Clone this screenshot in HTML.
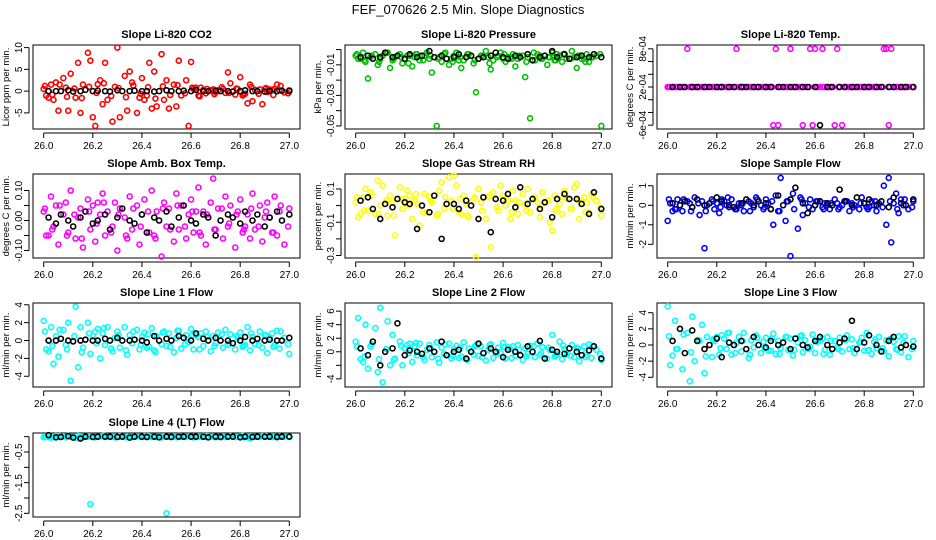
<!DOCTYPE html>
<html><head><meta charset="utf-8"><style>
body{margin:0;background:#fff;}
svg{display:block;font-family:"Liberation Sans",Arial,sans-serif;}
</style></head><body>
<svg id="chart" width="936" height="540" viewBox="0 0 936 540">
<text x="468" y="14" text-anchor="middle" font-size="13">FEF_070626  2.5 Min. Slope Diagnostics</text>
</svg>
<script>
const colorTimes=[26.00,26.01,26.03,26.04,26.05,26.06,26.08,26.09,26.10,26.11,26.13,26.14,26.15,26.16,26.18,26.19,26.20,26.21,26.23,26.24,26.25,26.26,26.28,26.29,26.30,26.31,26.33,26.34,26.35,26.36,26.38,26.39,26.40,26.41,26.43,26.44,26.45,26.46,26.48,26.49,26.50,26.51,26.53,26.54,26.55,26.56,26.58,26.59,26.60,26.61,26.63,26.64,26.65,26.66,26.68,26.69,26.70,26.71,26.73,26.74,26.75,26.76,26.78,26.79,26.80,26.81,26.83,26.84,26.85,26.86,26.88,26.89,26.90,26.91,26.93,26.94,26.95,26.96,26.98,27.00];
const colorTimes2=[26.005,26.035,26.065,26.095,26.125,26.155,26.185,26.215,26.245,26.275,26.305,26.335,26.365,26.395,26.425,26.455,26.485,26.515,26.545,26.575,26.605,26.635,26.665,26.695,26.725,26.755,26.785,26.815,26.845,26.875,26.905,26.935,26.965,26.995,26.02,26.22,26.42,26.62,26.82,26.92];
const blackTimes=[26.02,26.05,26.07,26.10,26.12,26.15,26.17,26.20,26.22,26.25,26.27,26.30,26.32,26.35,26.37,26.40,26.42,26.45,26.47,26.50,26.52,26.55,26.57,26.60,26.62,26.65,26.67,26.70,26.72,26.75,26.77,26.80,26.82,26.85,26.87,26.90,26.92,26.95,26.97,27.00];
const xTicks=[26.0,26.2,26.4,26.6,26.8,27.0];
const xTickLabels=["26.0","26.2","26.4","26.6","26.8","27.0"];

const co2Color=[0.5,-1,1.5,-2,2,-4.5,3,0.8,-4.5,4,-1.5,6.5,-5,1.5,8.8,7,-6,-8,2.5,-3,6.5,-2,-7,1,10,-6,3.5,-4.5,4.5,2,-5,-1.5,3,-2,6.5,-4,4.5,-3.5,8.5,-2,2.5,-4,1.5,-3.5,7,-1,2.5,-8,6.7,0.5,-1,0.8,0.3,-0.5,0.2,0.4,-0.3,0.2,0.5,-0.4,4.3,1.8,-0.8,0.5,3.2,-1,-2.8,1.5,-2.3,0.3,0.4,-3,0.5,-0.2,0.3,0.5,1.5,0.2,-0.3,0.2];
const co2Color2=[1.2,-0.8,1.5,-1.3,0.6,-1.6,1.0,-0.4,1.8,-1.1,0.7,-1.4,1.3,-0.6,0.9,-1.7,1.1,-0.9,1.4,-0.5,0.8,-1.2,0.5,-0.7,0.9,-0.4,0.6,-0.8,1.0,-0.6,0.7,-0.9,1.2,-0.5,-1.5,1.6,-1.0,0.8,-0.6,0.4];
const co2Black=[0,0,0,0.2,-0.1,0,0.3,0,0.1,0,-0.1,0.2,0,0,0.1,0,0,-0.1,0,0.2,0,0,0.1,0,0.3,0,0,0.1,0,0,-0.1,0,0.2,0,0,-0.1,0,0,0.1,0];
const presColor=[-0.004,-0.006,-0.002,-0.008,-0.019,-0.005,-0.003,-0.010,-0.006,-0.004,-0.002,-0.012,-0.007,-0.005,-0.003,-0.009,-0.006,-0.004,-0.011,-0.005,-0.003,-0.007,-0.004,-0.002,-0.006,-0.015,-0.050,-0.005,-0.008,-0.003,-0.010,-0.006,-0.004,-0.002,-0.012,-0.007,-0.005,-0.003,-0.009,-0.028,-0.006,-0.004,-0.001,-0.005,-0.013,-0.007,-0.004,-0.002,-0.006,-0.008,-0.005,-0.003,-0.011,-0.006,-0.004,-0.018,-0.005,-0.045,-0.007,-0.003,-0.004,-0.006,-0.010,-0.005,-0.002,-0.007,-0.004,-0.008,-0.003,-0.006,-0.001,-0.005,-0.012,-0.004,-0.006,-0.003,-0.008,-0.005,-0.004,-0.050];
const presColor2=[-0.003,-0.007,-0.004,-0.008,-0.002,-0.006,-0.005,-0.009,-0.003,-0.007,-0.004,-0.006,-0.002,-0.008,-0.005,-0.003,-0.007,-0.004,-0.009,-0.005,-0.003,-0.006,-0.004,-0.008,-0.002,-0.006,-0.005,-0.007,-0.003,-0.006,-0.004,-0.008,-0.005,-0.003,-0.006,-0.004,-0.007,-0.005,-0.003,-0.006];
const presBlack=[-0.005,-0.004,-0.006,-0.005,-0.002,-0.005,-0.004,-0.006,-0.003,-0.005,-0.004,-0.001,-0.005,-0.004,-0.006,-0.005,-0.003,-0.005,-0.004,-0.006,-0.005,-0.004,-0.002,-0.005,-0.006,-0.004,-0.005,-0.003,-0.007,-0.005,-0.004,-0.001,-0.005,-0.003,-0.006,-0.005,-0.004,-0.005,-0.003,-0.005];
const tempColor=[0,0,0,0,0,0,6,0,0,0,0,0,0,0,0,0,0,0,0,0,0,0,6,0,0,0,0,0,0,0,0,0,0,0,-6,6,-6,0,0,0,6,0,0,0,-6,0,6,-6,6,0,6,0,0,0,-6,6,0,-6,0,0,0,0,0,0,0,0,0,0,0,0,6,6,-6,6,0,0,0,0,0,0];
const tempColor2=[0,0,0,0,0,0,0,0,0,0,0,0,0,0,0,0,0,0,0,0,0,0,0,0,0,0,0,0,0,0,0,0,0,0,0,0,0,0,0,0];
const tempBlack=[0,0,0,0,0,0,0,0,0,0,0,0,0,0,0,0,0,0,0,0,0,0,0,0,-6,0,0,0,0,0,0,0,0,0,0,0,0,0,0,0];
const ambColor=[0.03,-0.05,0.08,-0.02,0.05,-0.08,0.02,0.06,-0.04,0.10,-0.06,0.01,0.04,-0.09,0.07,-0.03,0.05,-0.07,0.02,0.09,-0.05,0.03,-0.02,0.06,-0.10,0.04,0.01,-0.06,0.08,-0.03,0.05,-0.08,0.02,0.07,-0.04,0.10,-0.05,0.03,-0.12,0.06,-0.02,0.04,-0.07,0.09,-0.03,0.05,-0.06,0.02,0.07,-0.04,0.11,-0.05,0.03,-0.08,0.06,0.14,-0.03,0.04,-0.06,0.08,-0.02,0.05,-0.09,0.03,0.07,-0.04,0.02,-0.06,0.09,-0.03,0.05,-0.07,0.01,0.06,-0.04,0.08,-0.05,0.03,-0.08,0.04];
const ambColor2=[0.04,-0.03,0.05,-0.05,0.02,-0.06,0.03,-0.01,0.06,-0.04,0.02,-0.05,0.04,-0.02,0.03,-0.06,0.04,-0.03,0.05,-0.02,0.03,-0.04,0.02,-0.03,0.04,-0.01,0.02,-0.03,0.04,-0.02,0.03,-0.04,0.05,-0.02,-0.05,0.06,-0.04,0.03,-0.02,0.01];
const ambBlack=[0.01,-0.01,0.02,0.00,-0.02,0.01,0.03,-0.01,0.00,0.02,-0.03,0.01,0.04,0.00,-0.01,0.02,-0.04,0.01,0.00,0.03,-0.02,0.01,0.05,0.00,-0.01,0.02,0.01,-0.05,0.00,0.02,0.01,-0.01,0.03,0.00,0.02,-0.02,0.01,0.03,0.00,0.02];
const rhColor=[0.02,-0.07,0.05,0.10,-0.03,0.08,-0.05,0.15,0.00,0.12,-0.06,0.06,0.02,-0.18,0.11,-0.02,0.04,0.09,-0.08,0.03,0.01,-0.12,0.07,-0.04,0.05,0.02,-0.06,0.09,0.14,-0.02,0.17,0.03,0.18,0.12,-0.05,0.06,0.01,-0.07,0.04,-0.31,0.10,0.02,-0.08,0.05,-0.25,0.08,-0.03,0.12,0.06,0.00,-0.08,0.09,0.03,-0.05,0.07,0.01,0.10,-0.04,0.05,0.02,-0.07,0.08,0.03,-0.10,-0.15,0.06,0.01,-0.05,0.09,0.04,-0.02,0.11,0.13,-0.08,0.05,0.02,-0.04,0.07,0.03,-0.06];
const rhColor2=[0.05,-0.03,0.06,-0.05,0.03,-0.06,0.04,0.00,0.07,-0.04,0.03,-0.05,0.05,-0.02,0.04,-0.06,0.05,-0.03,0.06,-0.01,0.04,-0.04,0.02,-0.03,0.04,0.00,0.03,-0.03,0.05,-0.02,0.03,-0.04,0.05,-0.01,-0.05,0.06,-0.04,0.03,-0.02,0.02];
const rhBlack=[0.03,0.05,-0.02,-0.08,0.01,-0.01,0.04,0.02,0.01,-0.14,0.00,-0.04,0.06,-0.20,0.01,0.01,-0.02,0.03,0.00,-0.08,0.05,-0.16,0.04,0.03,0.07,-0.01,0.11,0.01,0.04,-0.02,0.02,-0.07,0.04,0.07,0.04,0.04,0.01,-0.05,0.08,-0.02];
const sfColor=[-0.8,0.1,-0.2,0.3,0.0,-0.3,0.2,0.1,-0.1,0.4,-0.5,0.2,-2.2,0.0,0.3,-0.2,0.1,-0.4,0.2,0.0,-0.1,0.3,-0.2,0.1,0.0,-0.3,0.2,0.1,-0.1,0.4,0.0,-0.2,0.3,0.1,-1.0,0.5,-0.3,1.4,-0.8,0.2,-2.6,0.6,-1.2,0.4,-0.5,0.1,0.3,-0.2,0.0,0.2,-0.1,0.1,0.0,-0.2,0.3,0.1,-0.1,0.0,0.2,-0.3,0.1,0.0,-0.2,0.4,0.1,-0.1,0.2,0.0,-0.3,0.1,1.0,-1.0,1.4,-1.9,0.6,-0.4,0.3,0.0,-0.2,0.2];
const sfColor2=[0.3,-0.2,0.3,-0.3,0.1,-0.3,0.2,-0.1,0.4,-0.2,0.1,-0.3,0.3,-0.1,0.2,-0.3,0.2,-0.2,0.3,-0.1,0.2,-0.2,0.1,-0.2,0.2,-0.1,0.1,-0.2,0.2,-0.1,0.2,-0.2,0.3,-0.1,-0.3,0.3,-0.2,0.2,-0.1,0.1];
const sfBlack=[0.1,0.0,0.2,-0.1,0.3,0.0,0.1,0.4,0.2,0.0,-0.1,0.1,0.3,0.0,0.2,0.1,-0.2,0.5,0.0,0.3,0.9,0.1,-0.4,0.0,0.2,0.1,0.0,0.8,0.2,0.0,0.4,0.1,0.3,0.0,0.2,-0.1,0.4,0.1,0.0,0.3];
const l1Color=[2.2,-1.0,1.5,-2.6,0.5,-1.8,1.2,-0.5,2.0,-4.5,3.8,-3.0,1.5,-0.8,2.0,-1.5,0.5,1.0,-2.0,0.8,-0.5,1.5,-1.2,0.3,1.0,-0.8,1.5,-1.6,0.6,-0.3,1.2,-1.0,0.4,0.9,-0.7,1.4,-1.1,0.5,-0.4,1.0,-0.6,0.8,-1.3,0.3,1.1,-0.9,0.6,-0.2,1.3,-1.0,0.4,0.8,-0.6,1.0,-1.2,0.5,-0.3,0.9,-0.8,1.2,-0.5,0.7,-1.0,0.3,0.9,-0.7,1.5,-1.1,0.4,-0.4,1.0,-0.8,0.6,-1.4,0.8,-0.5,1.1,-0.9,0.3,-1.5];
const l1Color2=[1.0,-0.6,1.2,-1.0,0.5,-1.3,0.8,-0.3,1.4,-0.9,0.6,-1.1,1.0,-0.5,0.7,-1.3,0.9,-0.7,1.1,-0.4,0.6,-1.0,0.4,-0.6,0.7,-0.3,0.5,-0.6,0.8,-0.5,0.6,-0.7,1.0,-0.4,-1.2,1.3,-0.8,0.6,-0.5,0.3];
const l1Black=[0,0,0.2,0,-0.1,0,0.1,0,0,0.2,0,0.3,0,0,0.1,0,-0.2,0.5,0,0.2,0,0.5,0.3,0,0.8,0.2,0,0.3,0,0,-0.3,0,0.4,0,0.2,0,0.1,0,0,0.3];
const l2Color=[1.5,5.0,-1.5,4.0,-2.5,0.8,3.5,-3.0,6.5,-4.5,4.5,-2.0,2.5,-1.0,1.5,-2.0,0.5,1.0,-1.5,0.8,-0.5,1.2,-1.2,0.3,1.0,-0.8,1.4,-1.6,0.6,-0.3,1.2,-1.0,0.4,0.9,-0.7,1.4,-1.1,0.5,-0.4,1.0,-0.6,0.8,-1.3,0.3,1.1,-0.9,0.6,-0.2,1.3,-1.0,0.4,0.8,-0.6,1.0,-1.2,0.5,-0.3,0.9,-0.8,1.2,-0.5,0.7,-1.0,0.3,2.5,-0.7,1.5,-1.1,0.4,-0.4,1.0,-0.8,0.6,-1.4,0.8,-0.5,1.1,-0.9,0.3,-1.2];
const l2Color2=[0.8,-0.7,1.1,-1.1,0.4,-1.2,0.9,-0.2,1.3,-0.8,0.5,-1.0,1.1,-0.6,0.6,-1.2,0.8,-0.8,1.0,-0.3,0.7,-0.9,0.3,-0.7,0.8,-0.2,0.6,-0.5,0.9,-0.6,0.5,-0.8,0.9,-0.3,-1.1,1.2,-0.9,0.7,-0.4,0.2];
const l2Black=[0.5,-0.5,1.5,-2.0,0.0,0.5,4.2,-0.5,0.2,0.0,-0.3,0.5,0.0,1.5,-0.5,0.0,0.3,-1.0,0.0,1.2,-0.2,0.5,0.0,-0.8,0.3,0.0,-0.5,0.8,0.0,1.6,-1.0,0.3,0.0,-0.3,0.5,0.0,-0.5,0.2,0.8,-1.0];
const l3Color=[4.8,-2.5,3.0,-0.5,2.0,-3.0,1.5,-4.5,3.5,-2.0,0.5,2.5,-3.5,1.0,-1.5,0.5,1.0,-1.2,0.8,-0.5,1.5,-1.2,0.3,1.0,-0.8,1.5,-1.6,0.6,-0.3,1.2,-1.0,0.4,0.9,-0.7,1.4,-1.1,0.5,-0.4,1.0,-0.6,0.8,-1.3,0.3,1.1,-0.9,0.6,-0.2,1.3,-1.0,0.4,0.8,-0.6,1.0,-1.2,0.5,-0.3,0.9,-0.8,1.2,-0.5,0.7,-1.0,0.3,0.9,-0.7,1.5,-1.1,0.4,-0.4,1.0,-0.8,0.6,-1.4,0.8,-0.5,1.1,-0.9,0.3,-1.5,0.5];
const l3Color2=[1.1,-0.5,1.3,-0.9,0.6,-1.4,0.7,-0.4,1.5,-1.0,0.5,-1.2,0.9,-0.4,0.8,-1.1,1.0,-0.6,1.2,-0.5,0.5,-1.1,0.5,-0.5,0.6,-0.4,0.4,-0.7,0.7,-0.4,0.7,-0.6,1.1,-0.5,-1.3,1.2,-0.7,0.5,-0.6,0.4];
const l3Black=[0.5,2.0,-1.0,1.8,0.5,-0.5,0.0,0.8,-1.5,0.3,0.0,0.5,-0.5,1.0,0.0,-0.3,0.5,0.0,0.3,-0.5,0.8,0.0,-0.3,0.5,1.0,0.0,-0.5,0.3,0.8,3.0,-0.5,0.3,1.2,0.0,-0.8,0.5,1.0,-0.3,0.0,-0.2];
const l4Color=[-0.02,0.01,-0.03,0.00,0.02,-0.01,0.01,-0.02,0.03,0.00,-0.04,0.02,0.01,-0.02,0.00,-2.2,0.01,-0.02,0.00,0.02,-0.01,0.00,0.01,-0.02,0.00,0.02,-0.01,0.01,0.00,-0.02,0.01,0.00,-0.01,0.02,0.00,-0.01,0.01,0.00,-0.02,0.01,-2.5,0.00,0.01,-0.01,0.02,0.00,-0.01,0.01,0.00,-0.02,0.01,0.00,0.02,-0.01,0.00,0.01,-0.02,0.00,0.01,-0.01,0.00,0.02,-0.01,0.00,0.01,0.03,-0.02,-0.05,0.01,0.00,-0.01,0.02,0.00,-0.01,0.01,0.00,-0.02,0.01,0.00,-0.01];
const l4Color2=[0.01,-0.02,0.02,-0.01,0.00,-0.03,0.01,0.00,0.03,-0.01,0.00,-0.02,0.01,0.00,0.02,-0.01,0.01,0.00,-0.02,0.01,0.00,-0.01,0.02,0.00,-0.01,0.01,0.00,-0.02,0.01,0.00,0.02,-0.01,0.00,0.01,-0.02,0.01,0.00,-0.01,0.01,0.00];
const l4Black=[0.05,-0.02,-0.01,0.02,-0.03,-0.06,0.00,-0.01,0.00,0.00,0.00,-0.01,0.00,-0.03,0.00,0.00,-0.01,0.00,-0.02,0.00,-0.01,0.00,0.00,0.00,0.00,0.00,-0.02,0.00,-0.01,0.00,0.00,-0.02,0.00,-0.01,0.00,0.00,0.00,-0.01,0.00,0.00];

const titles=["Slope Li-820 CO2","Slope Li-820 Pressure","Slope Li-820 Temp.","Slope Amb. Box Temp.","Slope Gas Stream RH","Slope Sample Flow","Slope Line 1 Flow","Slope Line 2 Flow","Slope Line 3 Flow","Slope Line 4 (LT) Flow"];
const yTitles=["Licor ppm per min.","kPa per min.","degrees C per min.","degrees C per min.","percent per min.","ml/min per min.","ml/min per min.","ml/min per min.","ml/min per min.","ml/min per min."];
const colorSeries=[co2Color,presColor,tempColor,ambColor,rhColor,sfColor,l1Color,l2Color,l3Color,l4Color];
const colorSeries2=[co2Color2,presColor2,tempColor2,ambColor2,rhColor2,sfColor2,l1Color2,l2Color2,l3Color2,l4Color2];
const blackSeries=[co2Black,presBlack,tempBlack,ambBlack,rhBlack,sfBlack,l1Black,l2Black,l3Black,l4Black];
const seriesColors=["#ff0000","#00c000","#ff00ff","#ff00ff","#ffff00","#0000ff","#00ffff","#00ffff","#00ffff","#00ffff"];
const yMins=[-8.7,-0.052,-6.6,-0.125,-0.315,-2.7,-5.2,-5.2,-5.2,-2.62];
const yMaxs=[10.6,0.003,6.6,0.155,0.19,1.6,4.2,7.2,5.2,0.12];
const yTicks=[[-5,0,5,10],[-0.05,-0.04,-0.03,-0.02,-0.01,0.0],[-6,-4,-2,0,2,4,6],[-0.10,-0.05,0.00,0.05,0.10],[-0.3,-0.2,-0.1,0.0,0.1],[-2,-1,0,1],[-4,-2,0,2,4],[-4,-2,0,2,4,6],[-4,-2,0,2,4],[-2.5,-2,-1.5,-1,-0.5,0]];
const yTickLabels=[["-5","0","5","10"],["-0.05","","-0.03","","-0.01",""],["-6e-04","","","2e-04","","","8e-04"],["-0.10","","0.00","","0.10"],["-0.3","","-0.1","","0.1"],["-2","-1","0","1"],["-4","-2","0","2","4"],["-4","","0","2","4","6"],["-4","-2","0","2","4"],["-2.5","","-1.5","","-0.5",""]];

const colX=[33,345,657], rowY=[45,174,303,433], W=267, H=84;
const svg=document.getElementById('chart');
const NS='http://www.w3.org/2000/svg';
function mk(tag,attrs,parent){const e=document.createElementNS(NS,tag);for(const k in attrs)e.setAttribute(k,attrs[k]);parent.appendChild(e);return e;}

for(let p=0;p<10;p++){
  const x0=colX[p%3], y0=rowY[Math.floor(p/3)];
  const g=mk('g',{},svg);
  
  
  const sx=v=>x0+W*0.04+(v-26.0)/(1.0)*W*0.92;
  const sy=v=>y0+H-(v-yMins[p])/(yMaxs[p]-yMins[p])*H;
  const box=mk('rect',{x:x0,y:y0,width:W,height:H,fill:'none',stroke:'#000','stroke-width':1},g);
  
  
  const t=mk('text',{x:x0+W/2,y:y0-7,'text-anchor':'middle','font-size':11,'font-weight':'bold'},g);
  t.textContent=titles[p];
  
  
  const yt=mk('text',{x:0,y:0,'text-anchor':'middle','font-size':9.5,transform:`translate(${x0-24},${y0+H/2}) rotate(-90)`},g);
  yt.textContent=yTitles[p];
  
  
  const xa=mk('g',{},g);
  
  
  mk('line',{x1:sx(26.0),x2:sx(27.0),y1:y0+H+4,y2:y0+H+4,stroke:'#000'},xa);
  xTicks.forEach((v,i)=>{
    mk('line',{x1:sx(v),x2:sx(v),y1:y0+H+4,y2:y0+H+9,stroke:'#000'},xa);
    const l=mk('text',{x:sx(v),y:y0+H+20,'text-anchor':'middle','font-size':10},xa);
    l.textContent=xTickLabels[i];
    
    
  });
  const ya=mk('g',{},g);
  
  
  const tk=yTicks[p];
  mk('line',{x1:x0-4,x2:x0-4,y1:sy(tk[0]),y2:sy(tk[tk.length-1]),stroke:'#000'},ya);
  tk.forEach((v,i)=>{
    mk('line',{x1:x0-4,x2:x0-9,y1:sy(v),y2:sy(v),stroke:'#000'},ya);
    const lab=yTickLabels[p][i];
    if(lab){
      const l=mk('text',{x:0,y:0,'text-anchor':'middle','font-size':10,transform:`translate(${x0-11},${sy(v)}) rotate(-90)`},ya);
      l.textContent=lab;
      
      
    }
  });
  const pc=mk('g',{fill:'none',stroke:seriesColors[p],'stroke-width':1.6},g);
  
  
  colorSeries2[p].forEach((v,i)=>{
    const c=mk('circle',{cx:sx(colorTimes2[i]),cy:sy(v),r:2.5},pc);
    
    
  });
  colorSeries[p].forEach((v,i)=>{
    const c=mk('circle',{cx:sx(colorTimes[i]),cy:sy(v),r:2.5},pc);
    
    
  });
  const pb=mk('g',{fill:'none',stroke:'#000','stroke-width':1.6},g);
  
  
  blackSeries[p].forEach((v,i)=>{
    const c=mk('circle',{cx:sx(blackTimes[i]),cy:sy(v),r:2.5},pb);
    
    
  });
}
</script>
</body></html>
